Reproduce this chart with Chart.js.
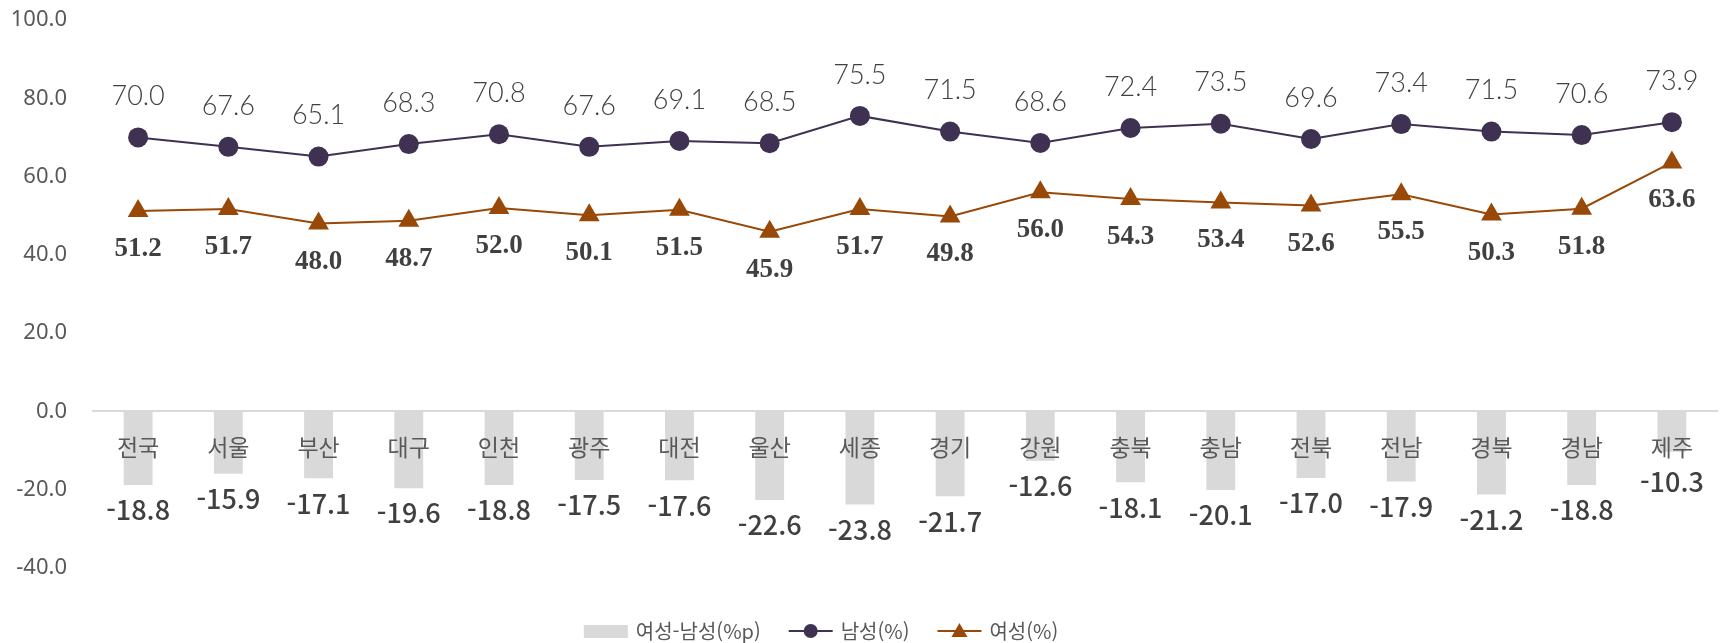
<!DOCTYPE html>
<html lang="ko">
<head>
  <meta charset="UTF-8" />
  <title>시도별 남녀 비율</title>
  <script src="https://cdn.jsdelivr.net/npm/chart.js"></script>
  <style>
    body { margin: 0; background: #fff; }
    canvas { display: block; }
  </style>
</head>
<body>
  <canvas id="chart" width="1729" height="643"></canvas>

  <script>
    const regions = ["전국", "서울", "부산", "대구", "인천", "광주", "대전", "울산", "세종",
                     "경기", "강원", "충북", "충남", "전북", "전남", "경북", "경남", "제주"];
    const male = [70.0, 67.6, 65.1, 68.3, 70.8, 67.6, 69.1, 68.5, 75.5,
                  71.5, 68.6, 72.4, 73.5, 69.6, 73.4, 71.5, 70.6, 73.9];
    const female = [51.2, 51.7, 48.0, 48.7, 52.0, 50.1, 51.5, 45.9, 51.7,
                    49.8, 56.0, 54.3, 53.4, 52.6, 55.5, 50.3, 51.8, 63.6];
    const diff = [-18.8, -15.9, -17.1, -19.6, -18.8, -17.5, -17.6, -22.6, -23.8,
                  -21.7, -12.6, -18.1, -20.1, -17.0, -17.9, -21.2, -18.8, -10.3];
    const yMin = -40, yMax = 100, yStep = 20;

    const seriesNames = ["여성-남성(%p)", "남성(%)", "여성(%)"];
    const barColor = "#d9d9d9";
    const maleColor = "#3f3151";
    const femaleColor = "#984807";

    // value labels on bars / points
    const valueLabels = {
      id: "valueLabels",
      afterDatasetsDraw(chart) {
        const ctx = chart.ctx;
        ctx.save();
        ctx.textAlign = "center";
        ctx.textBaseline = "middle";

        ctx.font = '500 27px "Noto Sans CJK KR", sans-serif';
        ctx.fillStyle = "#404040";
        chart.getDatasetMeta(0).data.forEach((bar, i) => {
          ctx.fillText(diff[i].toFixed(1), bar.x, Math.max(bar.y + 25, 482));
        });

        ctx.font = '300 27px Lato, "Open Sans", sans-serif';
        ctx.fillStyle = "#404040";
        chart.getDatasetMeta(1).data.forEach((pt, i) => {
          ctx.fillText(male[i].toFixed(1), pt.x, pt.y - 41);
        });

        ctx.font = 'bold 27px "Liberation Serif", serif';
        ctx.fillStyle = "#404040";
        chart.getDatasetMeta(2).data.forEach((pt, i) => {
          ctx.fillText(female[i].toFixed(1), pt.x, pt.y + 38);
        });
        ctx.restore();
      }
    };

    // legend drawn under the plot, like the original
    const bottomLegend = {
      id: "bottomLegend",
      afterDraw(chart) {
        const ctx = chart.ctx;
        const y = 631, sw = 44, textGap = 8, itemGap = 28;
        ctx.save();
        ctx.font = '20px "Noto Sans CJK KR", sans-serif';
        ctx.textBaseline = "middle";
        ctx.textAlign = "left";
        const widths = seriesNames.map(t => ctx.measureText(t).width);
        let total = widths.reduce((a, w) => a + sw + textGap + w, 0) + itemGap * 2;
        let x = 821 - total / 2;

        seriesNames.forEach((name, i) => {
          if (i === 0) {
            ctx.fillStyle = barColor;
            ctx.fillRect(x, y - 6, sw, 13);
          } else {
            const c = i === 1 ? maleColor : femaleColor;
            ctx.strokeStyle = c;
            ctx.lineWidth = 2;
            ctx.beginPath();
            ctx.moveTo(x, y);
            ctx.lineTo(x + sw, y);
            ctx.stroke();
            ctx.fillStyle = c;
            ctx.beginPath();
            if (i === 1) {
              ctx.arc(x + sw / 2, y, 7, 0, Math.PI * 2);
            } else {
              ctx.moveTo(x + sw / 2, y - 8);
              ctx.lineTo(x + sw / 2 + 8, y + 6);
              ctx.lineTo(x + sw / 2 - 8, y + 6);
              ctx.closePath();
            }
            ctx.fill();
          }
          ctx.fillStyle = "#595959";
          ctx.fillText(name, x + sw + textGap, y);
          x += sw + textGap + widths[i] + itemGap;
        });
        ctx.restore();
      }
    };

    new Chart(document.getElementById("chart"), {
      type: "bar",
      data: {
        labels: regions,
        datasets: [
          {
            type: "bar",
            label: seriesNames[0],
            data: diff,
            backgroundColor: barColor,
            barPercentage: 0.32,
            categoryPercentage: 1,
            order: 3
          },
          {
            type: "line",
            label: seriesNames[1],
            data: male,
            borderColor: maleColor,
            backgroundColor: maleColor,
            borderWidth: 2,
            pointStyle: "circle",
            pointRadius: 10,
            pointBorderWidth: 0,
            tension: 0,
            order: 1
          },
          {
            type: "line",
            label: seriesNames[2],
            data: female,
            borderColor: femaleColor,
            backgroundColor: femaleColor,
            borderWidth: 2,
            pointStyle: "triangle",
            pointRadius: 12,
            pointBorderWidth: 0,
            tension: 0,
            order: 2
          }
        ]
      },
      options: {
        responsive: false,
        animation: false,
        layout: { padding: { top: 20, right: 7, bottom: 75, left: 0 } },
        plugins: {
          legend: { display: false },
          tooltip: { enabled: false }
        },
        scales: {
          x: {
            position: { y: 0 },
            grid: { display: false, drawTicks: false },
            border: { display: true, color: "#d9d9d9", width: 2, z: 1 },
            ticks: {
              z: 1,
              color: "#595959",
              padding: 22,
              maxRotation: 0,
              font: { family: '"Noto Sans CJK KR", sans-serif', size: 23 }
            },
            afterFit(scale) { scale.height = 0; }
          },
          y: {
            min: yMin,
            max: yMax,
            grid: { display: false, drawTicks: false },
            border: { display: false },
            ticks: {
              stepSize: yStep,
              color: "#595959",
              padding: 26,
              font: { family: '"Noto Sans", sans-serif', size: 22 },
              callback: v => v.toFixed(1)
            },
            afterFit(scale) {
              scale.width = 93;
              scale.paddingTop = 0;
              scale.paddingBottom = 0;
            }
          }
        }
      },
      plugins: [valueLabels, bottomLegend]
    });
  </script>
</body>
</html>
